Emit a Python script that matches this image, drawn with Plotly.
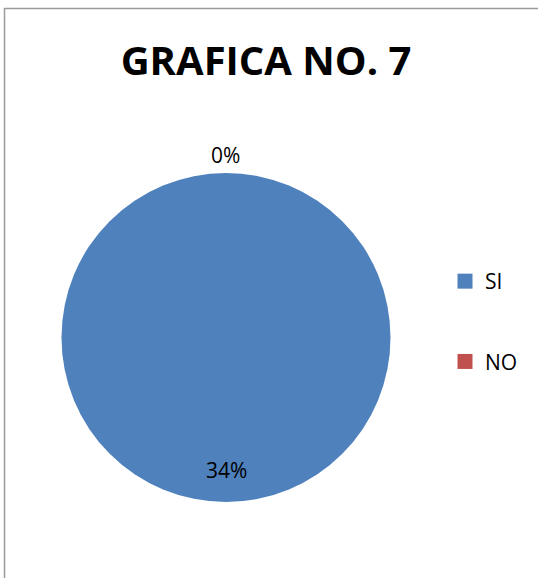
import plotly.graph_objects as go

categories = ["SI", "NO"]
values = [34, 0]
colors = ["#4F81BD", "#C0504D"]
title_text = "GRAFICA NO. 7"

W, H = 538, 578
FONT = "Open Sans, sans-serif"
fig = go.Figure()

fig.add_trace(go.Pie(
    labels=categories, values=values,
    marker=dict(colors=colors, line=dict(width=0)),
    textinfo="none", sort=False, direction="clockwise", rotation=0,
    showlegend=False, hoverinfo="label+value",
    domain=dict(x=[61 / W, 391 / W], y=[1 - 502 / H, 1 - 173 / H]),
))

# legend entries
for cat, col in zip(categories, colors):
    fig.add_trace(go.Scatter(
        x=[None], y=[None], mode="markers", name=cat,
        marker=dict(symbol="square", size=15, color=col),
        legendgroup=cat, showlegend=True,
    ))

# data labels
label_pos = {"SI": (226 / W, 1 - 470 / H), "NO": (225 / W, 1 - 155 / H)}
for cat, v in zip(categories, values):
    x, y = label_pos[cat]
    fig.add_annotation(x=x, y=y, xref="paper", yref="paper", text=f"{v}%",
                       xanchor="center", yanchor="middle",
                       showarrow=False, font=dict(size=21, color="#000000", family=FONT))

fig.add_shape(type="rect", xref="paper", yref="paper",
              x0=4.5 / W, x1=1.05, y0=-0.05, y1=1 - 8.5 / H,
              line=dict(color="#9a9a9a", width=1.5))

fig.update_layout(
    width=W, height=H,
    margin=dict(l=0, r=0, t=0, b=0),
    paper_bgcolor="white", plot_bgcolor="white",
    title=dict(text=f"<b>{title_text}</b>", x=266 / W, xanchor="center",
               y=1 - 61 / H, yanchor="middle",
               font=dict(size=40, color="#000000", family=FONT)),
    xaxis=dict(visible=False), yaxis=dict(visible=False),
    legend=dict(x=445 / W, y=1 - 261 / H, xanchor="left", yanchor="top",
                font=dict(size=21, color="#000000", family=FONT),
                tracegroupgap=50, bgcolor="rgba(0,0,0,0)"),
)

fig.write_html("out.html", config={"displayModeBar": False},
               post_script="document.body.style.margin='0';document.body.style.overflow='hidden';")
